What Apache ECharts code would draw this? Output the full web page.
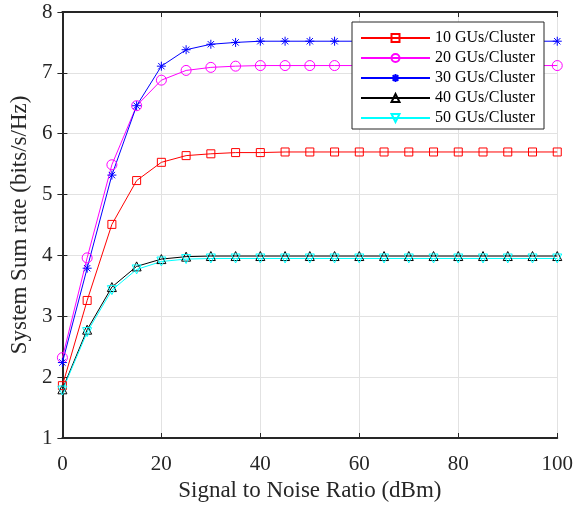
<!DOCTYPE html>
<html>
<head>
<meta charset="utf-8">
<script src="https://cdn.jsdelivr.net/npm/echarts@6/dist/echarts.min.js"></script>
<style>
html,body{margin:0;padding:0;background:#fff;}
#chart{width:576px;height:510px;}
</style>
</head>
<body>
<div id="chart"></div>
<script>
// SNR sweep (dBm)
const snr = [0,5,10,15,20,25,30,35,40,45,50,55,60,65,70,75,80,85,90,95,100];

// System sum rate (bits/s/Hz) for each cluster size
const gu10 = [1.86,3.26,4.51,5.23,5.53,5.64,5.67,5.69,5.69,5.70,5.70,5.70,5.70,5.70,5.70,5.70,5.70,5.70,5.70,5.70,5.70];
const gu20 = [2.32,3.96,5.49,6.46,6.88,7.04,7.09,7.11,7.12,7.12,7.12,7.12,7.12,7.12,7.12,7.12,7.12,7.12,7.12,7.12,7.12];
const gu30 = [2.24,3.79,5.32,6.46,7.11,7.38,7.47,7.50,7.52,7.52,7.52,7.52,7.52,7.52,7.52,7.52,7.52,7.52,7.52,7.52,7.52];
const gu40 = [1.80,2.78,3.48,3.82,3.94,3.98,3.99,3.99,3.99,3.99,3.99,3.99,3.99,3.99,3.99,3.99,3.99,3.99,3.99,3.99,3.99];
const gu50 = [1.78,2.74,3.43,3.77,3.90,3.94,3.95,3.95,3.95,3.95,3.95,3.95,3.95,3.95,3.95,3.95,3.95,3.95,3.95,3.95,3.95];

const seriesNames = ['10 GUs/Cluster','20 GUs/Cluster','30 GUs/Cluster','40 GUs/Cluster','50 GUs/Cluster'];

const FONT = 'Liberation Serif';
const AXIS_COLOR = '#262626';
const TEXT_COLOR = '#262626';

// Marker outlines (stroked only, hollow)
const asterisk = 'path://M0,-10L0,10M-10,0L10,0M-7.07,-7.07L7.07,7.07M-7.07,7.07L7.07,-7.07';

function pairs(vals){ return snr.map((x,i)=>[x, vals[i]]); }

function makeSeries(name, vals, color, symbol, size, rotate){
  return {
    name: name,
    type: 'line',
    data: pairs(vals),
    symbol: symbol,
    symbolSize: size,
    symbolRotate: rotate || 0,
    showAllSymbol: true,
    lineStyle: {color: color, width: 1},
    itemStyle: {color: 'rgba(255,255,255,0)', borderColor: color, borderWidth: 1},
    emphasis: {disabled: true},
    animation: false
  };
}

const chart = echarts.init(document.getElementById('chart'), null, {renderer: 'canvas'});

const commonAxis = {
  axisLine: {show: true, lineStyle: {color: AXIS_COLOR, width: 2}},
  axisTick: {show: true, inside: true, length: 5, lineStyle: {color: AXIS_COLOR, width: 1}}
};

chart.setOption({
  backgroundColor: '#ffffff',
  animation: false,
  grid: {left: 59, right: 17, top: 12, bottom: 72, containLabel: false},
  legend: {
    orient: 'vertical',
    left: 352,
    top: 22,
    data: seriesNames,
    itemWidth: 69,
    itemHeight: 10,
    itemGap: 4,
    padding: [8, 9, 3, 8],
    backgroundColor: '#ffffff',
    borderColor: AXIS_COLOR,
    borderWidth: 1,
    borderRadius: 0,
    textStyle: {fontFamily: FONT, fontSize: 16, color: '#000'}
  },
  xAxis: [{
    type: 'value', min: 0, max: 100, interval: 20,
    name: 'Signal to Noise Ratio (dBm)',
    nameLocation: 'middle', nameGap: 31,
    nameTextStyle: {fontFamily: FONT, fontSize: 23, color: TEXT_COLOR},
    axisLabel: {fontFamily: FONT, fontSize: 21, color: TEXT_COLOR, margin: 16},
    splitLine: {show: true, lineStyle: {color: '#e2e2e2', width: 1}},
    ...commonAxis
  },{
    type: 'value', position: 'top', min: 0, max: 100, interval: 20,
    axisLabel: {show: false}, splitLine: {show: false},
    ...commonAxis
  }],
  yAxis: [{
    type: 'value', min: 1, max: 8, interval: 1,
    name: 'System Sum rate (bits/s/Hz)',
    nameLocation: 'middle', nameGap: 20, nameRotate: 90,
    nameTextStyle: {fontFamily: FONT, fontSize: 23, color: TEXT_COLOR},
    axisLabel: {fontFamily: FONT, fontSize: 21, color: TEXT_COLOR, margin: 10},
    splitLine: {show: true, lineStyle: {color: '#e2e2e2', width: 1}},
    ...commonAxis
  },{
    type: 'value', position: 'right', min: 1, max: 8, interval: 1,
    axisLabel: {show: false}, splitLine: {show: false},
    ...commonAxis
  }],
  series: [
    makeSeries(seriesNames[0], gu10, '#ff0000', 'rect', 8),
    makeSeries(seriesNames[1], gu20, '#ff00ff', 'circle', 10),
    makeSeries(seriesNames[2], gu30, '#0000ff', asterisk, 9),
    makeSeries(seriesNames[3], gu40, '#000000', 'triangle', 9),
    makeSeries(seriesNames[4], gu50, '#00ffff', 'triangle', 9, 180)
  ]
});
</script>
</body>
</html>
